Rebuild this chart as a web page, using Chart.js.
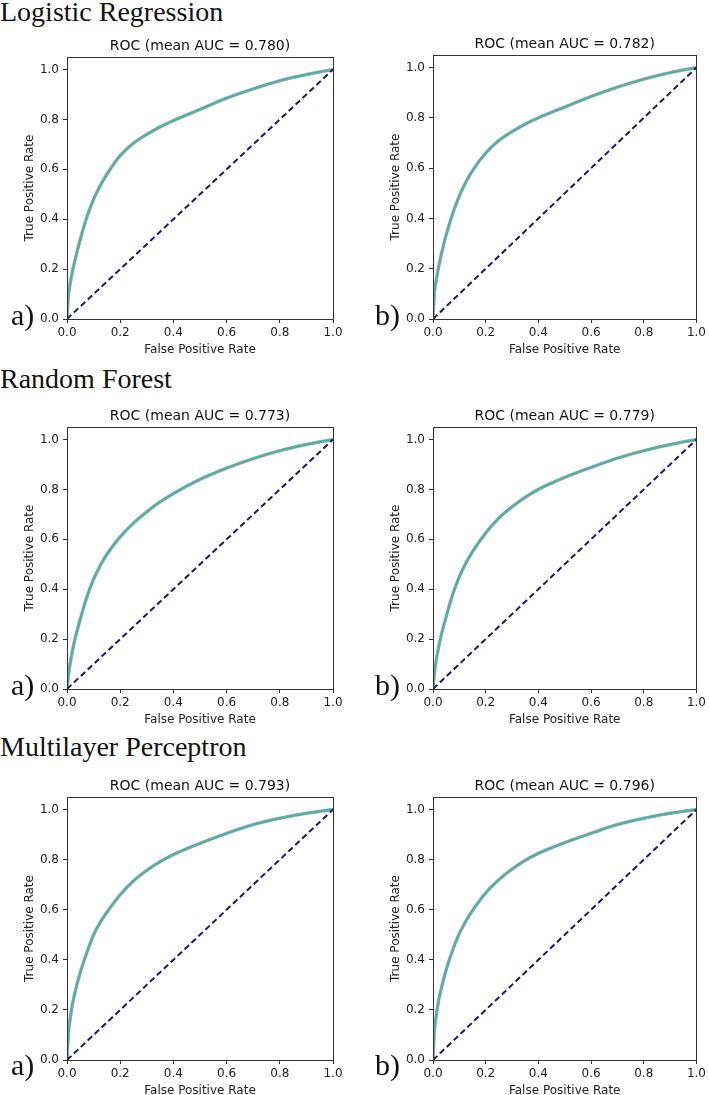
<!DOCTYPE html>
<html>
<head>
<meta charset="utf-8">
<script src="https://cdn.jsdelivr.net/npm/chart.js@4.4.0/dist/chart.umd.min.js"></script>
<style>
  html, body { margin: 0; padding: 0; background: #fff; }
  body { width: 709px; height: 1095px; position: relative; overflow: hidden; }
  .heading { position: absolute; left: 0; font-family: "Liberation Serif", "Times New Roman", serif; font-size: 28px; line-height: 28px; color: #111; white-space: nowrap; }
  .tag { position: absolute; font-family: "Liberation Serif", "Times New Roman", serif; font-size: 30px; line-height: 30px; color: #111; }
  .box { position: absolute; }
</style>
</head>
<body>
<div class="heading" style="top:-2.5px">Logistic Regression</div>
<div class="heading" style="top:365px">Random Forest</div>
<div class="heading" style="top:733px">Multilayer Perceptron</div>

<script>
// shared false positive rate grid
const fpr = [0, 0.005, 0.01, 0.02, 0.03, 0.05, 0.075, 0.1, 0.125, 0.15, 0.2, 0.25, 0.3, 0.35, 0.4, 0.5, 0.6, 0.7, 0.8, 0.9, 1.0];

// mean true positive rate
const tprLRa  = [0, 0.09, 0.13, 0.19, 0.235, 0.32, 0.41, 0.48, 0.535, 0.58, 0.655, 0.705, 0.74, 0.77, 0.795, 0.84, 0.885, 0.922, 0.955, 0.98, 1.0];
const tprLRb  = [0, 0.10, 0.14, 0.20, 0.25, 0.335, 0.42, 0.49, 0.545, 0.59, 0.66, 0.71, 0.745, 0.775, 0.80, 0.843, 0.885, 0.922, 0.954, 0.98, 1.0];
const tprRFa  = [0, 0.05, 0.09, 0.15, 0.20, 0.28, 0.37, 0.44, 0.495, 0.54, 0.61, 0.665, 0.71, 0.75, 0.783, 0.84, 0.885, 0.923, 0.955, 0.98, 1.0];
const tprRFb  = [0, 0.06, 0.10, 0.16, 0.21, 0.29, 0.38, 0.45, 0.505, 0.55, 0.625, 0.685, 0.73, 0.768, 0.80, 0.848, 0.888, 0.925, 0.955, 0.98, 1.0];
const tprMLPa = [0, 0.10, 0.15, 0.22, 0.27, 0.35, 0.43, 0.50, 0.55, 0.59, 0.66, 0.715, 0.757, 0.792, 0.82, 0.865, 0.905, 0.94, 0.965, 0.985, 1.0];
const tprMLPb = [0, 0.11, 0.16, 0.23, 0.28, 0.36, 0.44, 0.505, 0.555, 0.597, 0.667, 0.72, 0.762, 0.797, 0.825, 0.868, 0.905, 0.94, 0.965, 0.985, 1.0];

const chanceLine = [0, 1];
const aucValues = ['0.780', '0.782', '0.773', '0.779', '0.793', '0.796'];
const tags = ['a)', 'b)', 'a)', 'b)', 'a)', 'b)'];

Chart.defaults.font.family = "'DejaVu Sans', sans-serif";
Chart.defaults.color = '#222';

// matplotlib style box round the plot area
const spines = {
  id: 'spines',
  afterDraw(chart) {
    const a = chart.chartArea, c = chart.ctx;
    c.save();
    c.strokeStyle = '#333';
    c.lineWidth = 1;
    c.strokeRect(Math.round(a.left) + 0.5, Math.round(a.top) + 0.5, Math.round(a.right - a.left), Math.round(a.bottom - a.top));
    c.restore();
  }
};

const panels = [
  { tpr: tprLRa,  areaLeft: 67,  areaWidth: 266, padRight: 17, top: 56.5, bottom: 319, tagTop: 299.5, tagLeft: 11 },
  { tpr: tprLRb,  areaLeft: 433, areaWidth: 265, padRight: 11, top: 54.5, bottom: 319, tagTop: 299.5, tagLeft: 375 },
  { tpr: tprRFa,  areaLeft: 67,  areaWidth: 266, padRight: 17, top: 427,  bottom: 689, tagTop: 670, tagLeft: 11 },
  { tpr: tprRFb,  areaLeft: 433, areaWidth: 265, padRight: 11, top: 427,  bottom: 689, tagTop: 670, tagLeft: 375 },
  { tpr: tprMLPa, areaLeft: 67,  areaWidth: 266, padRight: 17, top: 797,  bottom: 1060, tagTop: 1050, tagLeft: 11 },
  { tpr: tprMLPb, areaLeft: 433, areaWidth: 265, padRight: 11, top: 797,  bottom: 1060, tagTop: 1050, tagLeft: 375 }
];

const TOP_BAND = 28, AXIS_W = 52, PAD_L = 15, X_AXIS_H = 45;

panels.forEach((p, i) => {
  const w = PAD_L + AXIS_W + p.areaWidth + p.padRight;
  const h = TOP_BAND + (p.bottom - p.top) + X_AXIS_H;
  const box = document.createElement('div');
  box.className = 'box';
  box.style.left = (p.areaLeft - PAD_L - AXIS_W) + 'px';
  box.style.top = (p.top - TOP_BAND) + 'px';
  const cv = document.createElement('canvas');
  cv.width = w; cv.height = h;
  cv.style.width = w + 'px'; cv.style.height = h + 'px';
  box.appendChild(cv);
  document.body.appendChild(box);

  const tag = document.createElement('div');
  tag.className = 'tag';
  tag.style.left = p.tagLeft + 'px';
  tag.style.top = p.tagTop + 'px';
  tag.textContent = tags[i];
  document.body.appendChild(tag);

  const curve = fpr.map((x, k) => ({ x: x, y: p.tpr[k] }));
  const line = (color, width) => ({
    data: curve, borderColor: color, borderWidth: width, pointRadius: 0,
    cubicInterpolationMode: 'monotone', fill: false
  });

  new Chart(cv, {
    type: 'line',
    data: {
      datasets: [
        { data: chanceLine.map(v => ({ x: v, y: v })), borderColor: '#191970', borderWidth: 2,
          borderDash: [6, 3.5], pointRadius: 0, fill: false },
        line('rgba(64,180,184,0.95)', 2.4),
        line('rgba(227,119,194,0.45)', 3.2),
        line('rgba(188,189,34,0.45)', 3.4),
        line('rgba(127,127,127,0.45)', 3.0)
      ]
    },
    options: {
      responsive: false,
      animation: false,
      layout: { padding: { left: PAD_L, right: p.padRight, top: 0, bottom: 0 }, autoPadding: false },
      plugins: {
        legend: { display: false },
        tooltip: { enabled: false },
        title: {
          display: true,
          fullSize: false,
          text: 'ROC (mean AUC = ' + aucValues[i] + ')',
          font: { size: 14, weight: 'normal' },
          color: '#111',
          padding: { top: 8.7, bottom: 2.5 }
        }
      },
      scales: {
        x: {
          type: 'linear', min: 0, max: 1,
          afterFit(s) { s.height = X_AXIS_H; },
          ticks: { stepSize: 0.2, includeBounds: false, maxRotation: 0, padding: 3,
                   font: { size: 12 }, color: '#222', callback: v => v.toFixed(1) },
          grid: { drawOnChartArea: false, drawTicks: true, tickLength: 4, tickColor: '#333' },
          border: { display: true, color: '#333' },
          title: { display: true, text: 'False Positive Rate', font: { size: 12 }, color: '#222',
                   padding: { top: 2, bottom: 7.3 } }
        },
        y: {
          type: 'linear', min: 0, max: 1.05,
          afterFit(s) { s.width = AXIS_W; },
          ticks: { stepSize: 0.2, includeBounds: false, padding: 4,
                   font: { size: 12 }, color: '#222', callback: v => v.toFixed(1) },
          grid: { drawOnChartArea: false, drawTicks: true, tickLength: 4, tickColor: '#333' },
          border: { display: true, color: '#333' },
          title: { display: true, text: 'True Positive Rate', font: { size: 12 }, color: '#222',
                   padding: { top: 7.8, bottom: 0 } }
        }
      }
    },
    plugins: [spines]
  });
});
</script>
</body>
</html>
